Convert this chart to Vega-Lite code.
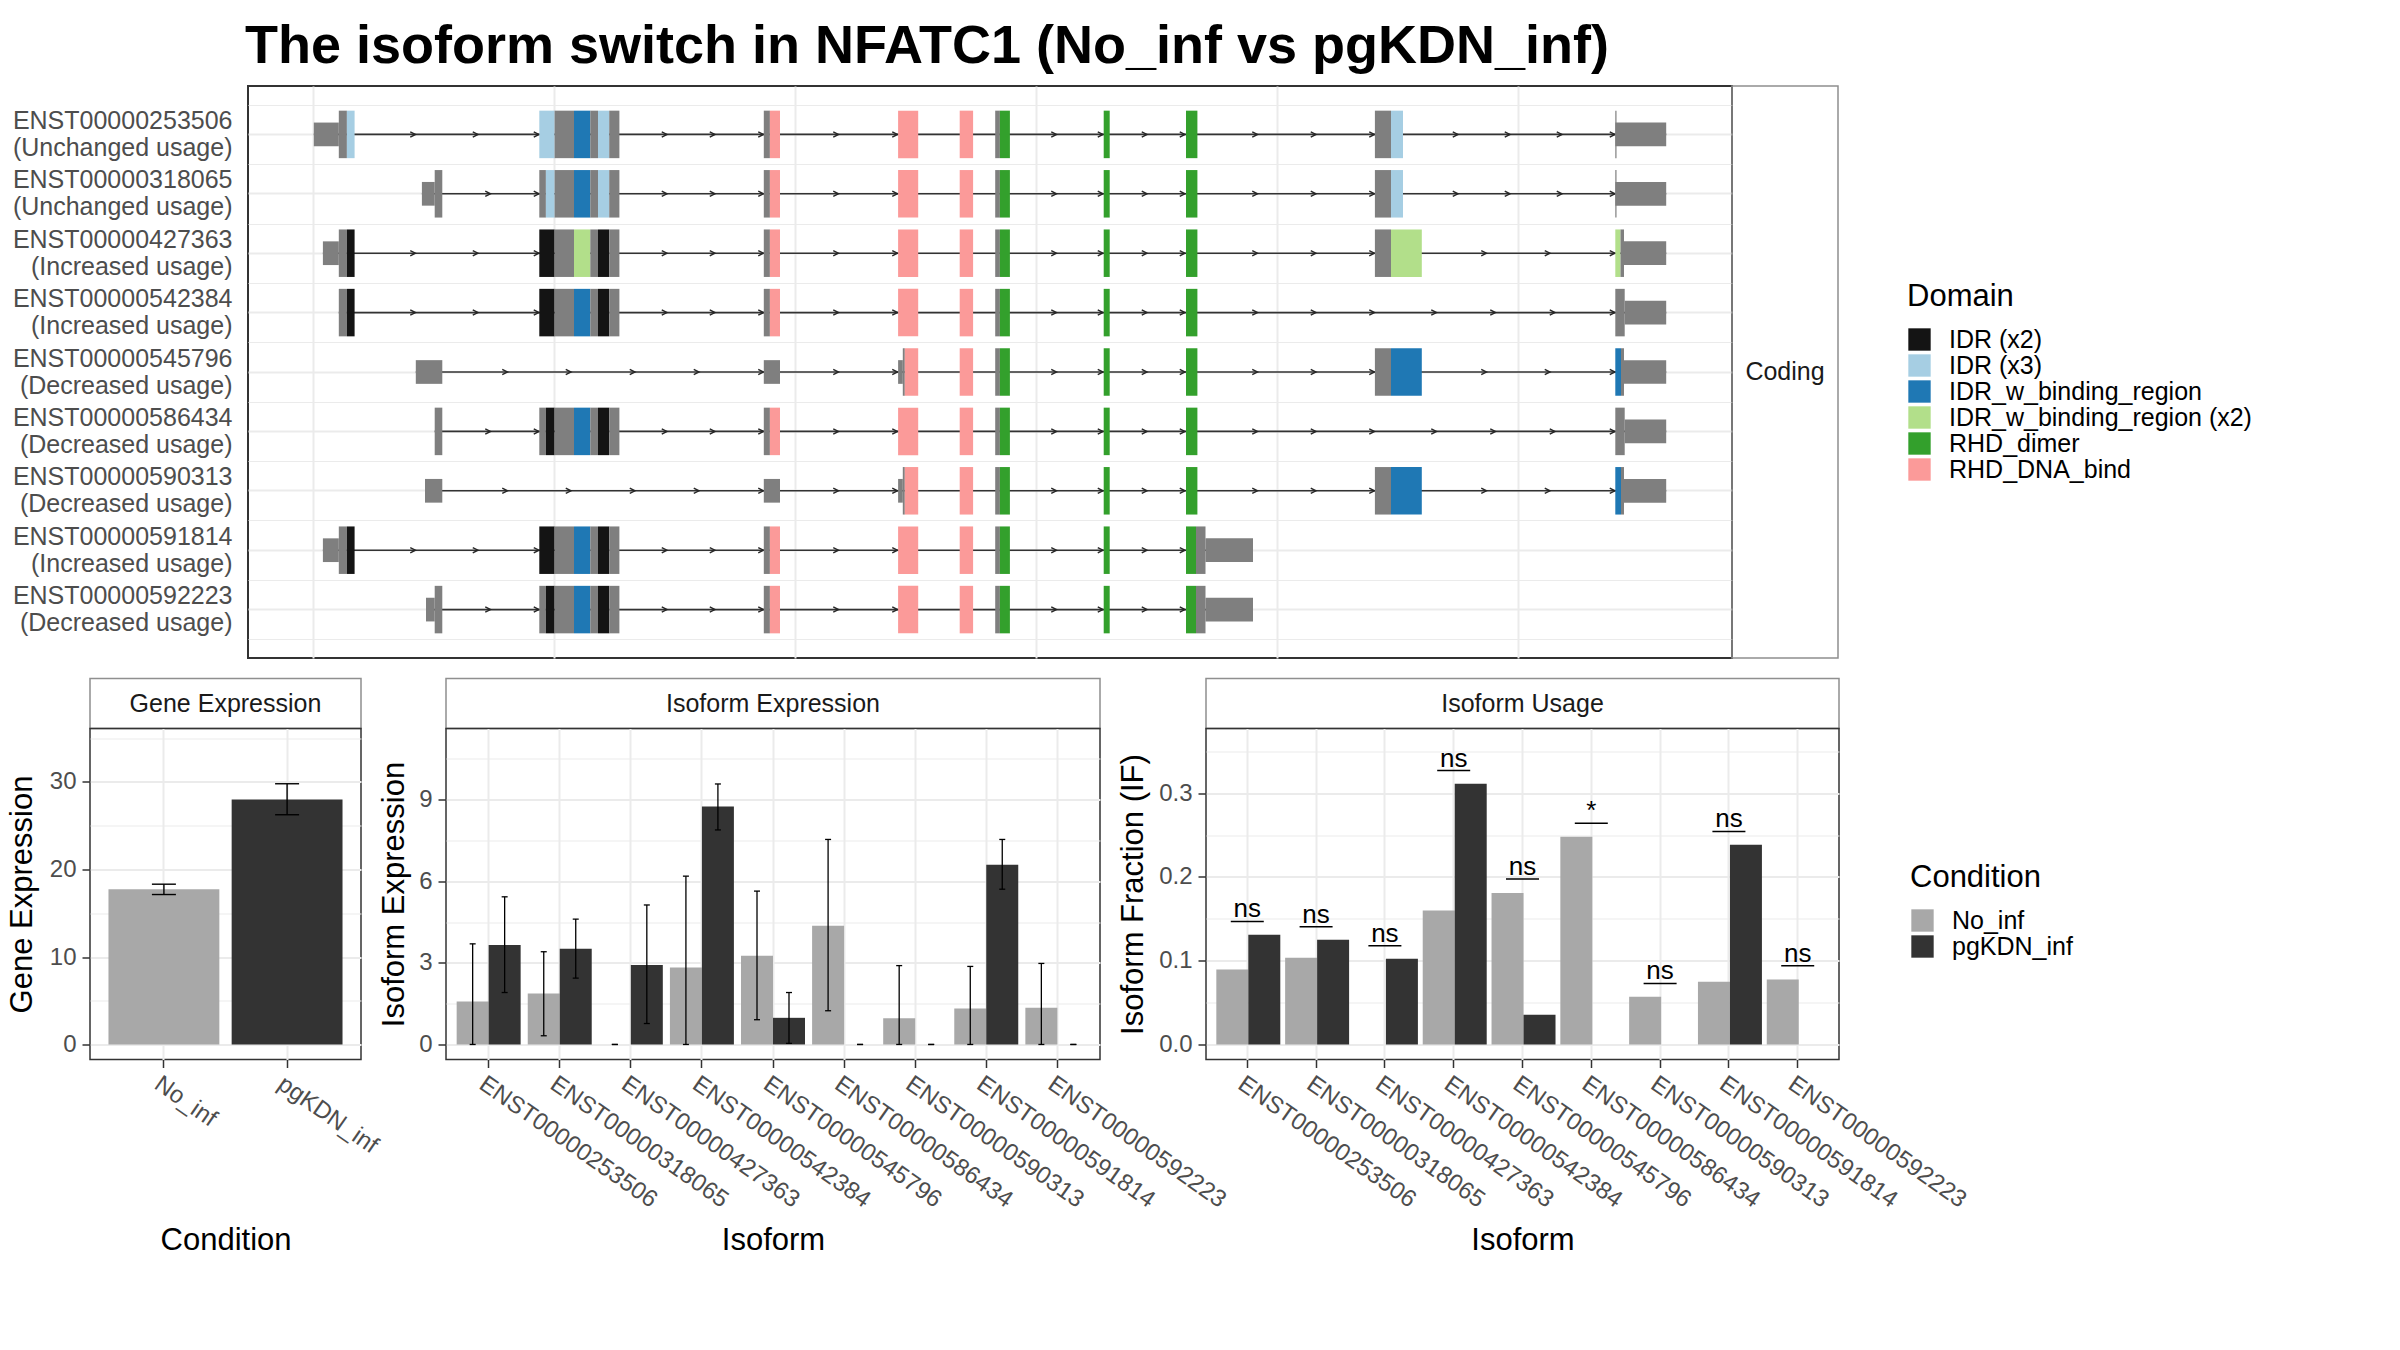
{
  "$schema": "https://vega.github.io/schema/vega-lite/v6.json",
  "padding": {"left": 5, "top": 20, "right": 20, "bottom": 20},
  "background": "white",
  "title": {"text": "The isoform switch in NFATC1 (No_inf vs pgKDN_inf)", "anchor": "start", "frame": "group", "fontSize": 54, "fontWeight": "bold", "font": "Liberation Sans", "color": "#000000", "baseline": "alphabetic", "offset": -32, "dx": 155},
  "spacing": 18.5,
  "datasets": {
    "tx": [
      {"t": "ENST00000253506\n(Unchanged usage)", "s": 0.8, "e": 1353.2},
      {"t": "ENST00000318065\n(Unchanged usage)", "s": 108.9, "e": 1353.2},
      {"t": "ENST00000427363\n(Increased usage)", "s": 9.9, "e": 1353.2},
      {"t": "ENST00000542384\n(Increased usage)", "s": 25.8, "e": 1353.2},
      {"t": "ENST00000545796\n(Decreased usage)", "s": 102.8, "e": 1353.2},
      {"t": "ENST00000586434\n(Decreased usage)", "s": 121.7, "e": 1353.2},
      {"t": "ENST00000590313\n(Decreased usage)", "s": 112, "e": 1353.2},
      {"t": "ENST00000591814\n(Increased usage)", "s": 9.9, "e": 940},
      {"t": "ENST00000592223\n(Decreased usage)", "s": 113, "e": 940}
    ],
    "chev": [
      {"t": "ENST00000253506\n(Unchanged usage)", "p": [102.5, 165, 226, 354, 402, 450.5, 525.5, 584.5, 743.5, 790, 834, 872, 944.5, 1003, 1061.5, 1145, 1197, 1249, 1302]},
      {"t": "ENST00000318065\n(Unchanged usage)", "p": [177.5, 226, 354, 402, 450.5, 525.5, 584.5, 743.5, 790, 834, 872, 944.5, 1003, 1061.5, 1145, 1197, 1249, 1302]},
      {"t": "ENST00000427363\n(Increased usage)", "p": [102.5, 165, 226, 354, 402, 450.5, 525.5, 584.5, 743.5, 790, 834, 872, 944.5, 1003, 1061.5, 1173.5, 1237, 1302]},
      {"t": "ENST00000542384\n(Increased usage)", "p": [102.5, 165, 226, 354, 402, 450.5, 525.5, 584.5, 743.5, 790, 834, 872, 944.5, 1003, 1061.5, 1123.5, 1182.5, 1242, 1302]},
      {"t": "ENST00000545796\n(Decreased usage)", "p": [194.5, 258, 322, 386, 450.5, 525.5, 584.5, 743.5, 790, 834, 872, 944.5, 1003, 1061.5, 1173.5, 1237, 1302]},
      {"t": "ENST00000586434\n(Decreased usage)", "p": [177.5, 226, 354, 402, 450.5, 525.5, 584.5, 743.5, 790, 834, 872, 944.5, 1003, 1061.5, 1123.5, 1182.5, 1242, 1302]},
      {"t": "ENST00000590313\n(Decreased usage)", "p": [194.5, 258, 322, 386, 450.5, 525.5, 584.5, 743.5, 790, 834, 872, 944.5, 1003, 1061.5, 1173.5, 1237, 1302]},
      {"t": "ENST00000591814\n(Increased usage)", "p": [102.5, 165, 226, 354, 402, 450.5, 525.5, 584.5, 743.5, 790, 834, 872]},
      {"t": "ENST00000592223\n(Decreased usage)", "p": [177.5, 226, 354, 402, 450.5, 525.5, 584.5, 743.5, 790, 834, 872]}
    ],
    "exons": [
      {"t": "ENST00000253506\n(Unchanged usage)", "k": "UTR", "s": 0.8, "e": 25.8},
      {"t": "ENST00000253506\n(Unchanged usage)", "k": "CDS", "s": 25.8, "e": 33.9},
      {"t": "ENST00000253506\n(Unchanged usage)", "k": "IDR (x3)", "s": 33.9, "e": 41.6},
      {"t": "ENST00000253506\n(Unchanged usage)", "k": "IDR (x3)", "s": 226.3, "e": 241.6},
      {"t": "ENST00000253506\n(Unchanged usage)", "k": "CDS", "s": 241.6, "e": 261},
      {"t": "ENST00000253506\n(Unchanged usage)", "k": "IDR_w_binding_region", "s": 261, "e": 277.3},
      {"t": "ENST00000253506\n(Unchanged usage)", "k": "CDS", "s": 277.3, "e": 285},
      {"t": "ENST00000253506\n(Unchanged usage)", "k": "IDR (x3)", "s": 285, "e": 296.2},
      {"t": "ENST00000253506\n(Unchanged usage)", "k": "CDS", "s": 296.2, "e": 306.4},
      {"t": "ENST00000253506\n(Unchanged usage)", "k": "CDS", "s": 450.8, "e": 456.9},
      {"t": "ENST00000253506\n(Unchanged usage)", "k": "RHD_DNA_bind", "s": 456.9, "e": 467},
      {"t": "ENST00000253506\n(Unchanged usage)", "k": "RHD_DNA_bind", "s": 585.1, "e": 605.2},
      {"t": "ENST00000253506\n(Unchanged usage)", "k": "RHD_DNA_bind", "s": 646.7, "e": 660.1},
      {"t": "ENST00000253506\n(Unchanged usage)", "k": "CDS", "s": 682.2, "e": 686.9},
      {"t": "ENST00000253506\n(Unchanged usage)", "k": "RHD_dimer", "s": 686.9, "e": 696.9},
      {"t": "ENST00000253506\n(Unchanged usage)", "k": "RHD_dimer", "s": 790.7, "e": 796.7},
      {"t": "ENST00000253506\n(Unchanged usage)", "k": "RHD_dimer", "s": 873, "e": 884.4},
      {"t": "ENST00000253506\n(Unchanged usage)", "k": "CDS", "s": 1061.9, "e": 1078},
      {"t": "ENST00000253506\n(Unchanged usage)", "k": "IDR (x3)", "s": 1078, "e": 1090},
      {"t": "ENST00000253506\n(Unchanged usage)", "k": "UTR", "s": 1302.3, "e": 1353.2},
      {"t": "ENST00000253506\n(Unchanged usage)", "k": "CDS", "s": 1302.3, "e": 1303.5},

      {"t": "ENST00000318065\n(Unchanged usage)", "k": "UTR", "s": 108.9, "e": 121.7},
      {"t": "ENST00000318065\n(Unchanged usage)", "k": "CDS", "s": 121.7, "e": 129.3},
      {"t": "ENST00000318065\n(Unchanged usage)", "k": "CDS", "s": 226.3, "e": 232.9},
      {"t": "ENST00000318065\n(Unchanged usage)", "k": "IDR (x3)", "s": 232.9, "e": 241.6},
      {"t": "ENST00000318065\n(Unchanged usage)", "k": "CDS", "s": 241.6, "e": 261},
      {"t": "ENST00000318065\n(Unchanged usage)", "k": "IDR_w_binding_region", "s": 261, "e": 277.3},
      {"t": "ENST00000318065\n(Unchanged usage)", "k": "CDS", "s": 277.3, "e": 285},
      {"t": "ENST00000318065\n(Unchanged usage)", "k": "IDR (x3)", "s": 285, "e": 296.2},
      {"t": "ENST00000318065\n(Unchanged usage)", "k": "CDS", "s": 296.2, "e": 306.4},
      {"t": "ENST00000318065\n(Unchanged usage)", "k": "CDS", "s": 450.8, "e": 456.9},
      {"t": "ENST00000318065\n(Unchanged usage)", "k": "RHD_DNA_bind", "s": 456.9, "e": 467},
      {"t": "ENST00000318065\n(Unchanged usage)", "k": "RHD_DNA_bind", "s": 585.1, "e": 605.2},
      {"t": "ENST00000318065\n(Unchanged usage)", "k": "RHD_DNA_bind", "s": 646.7, "e": 660.1},
      {"t": "ENST00000318065\n(Unchanged usage)", "k": "CDS", "s": 682.2, "e": 686.9},
      {"t": "ENST00000318065\n(Unchanged usage)", "k": "RHD_dimer", "s": 686.9, "e": 696.9},
      {"t": "ENST00000318065\n(Unchanged usage)", "k": "RHD_dimer", "s": 790.7, "e": 796.7},
      {"t": "ENST00000318065\n(Unchanged usage)", "k": "RHD_dimer", "s": 873, "e": 884.4},
      {"t": "ENST00000318065\n(Unchanged usage)", "k": "CDS", "s": 1061.9, "e": 1078},
      {"t": "ENST00000318065\n(Unchanged usage)", "k": "IDR (x3)", "s": 1078, "e": 1090},
      {"t": "ENST00000318065\n(Unchanged usage)", "k": "UTR", "s": 1302.3, "e": 1353.2},
      {"t": "ENST00000318065\n(Unchanged usage)", "k": "CDS", "s": 1302.3, "e": 1303.5},

      {"t": "ENST00000427363\n(Increased usage)", "k": "UTR", "s": 9.9, "e": 25.8},
      {"t": "ENST00000427363\n(Increased usage)", "k": "CDS", "s": 25.8, "e": 33.9},
      {"t": "ENST00000427363\n(Increased usage)", "k": "IDR (x2)", "s": 33.9, "e": 41.6},
      {"t": "ENST00000427363\n(Increased usage)", "k": "IDR (x2)", "s": 226.3, "e": 241.6},
      {"t": "ENST00000427363\n(Increased usage)", "k": "CDS", "s": 241.6, "e": 261},
      {"t": "ENST00000427363\n(Increased usage)", "k": "IDR_w_binding_region (x2)", "s": 261, "e": 277.3},
      {"t": "ENST00000427363\n(Increased usage)", "k": "CDS", "s": 277.3, "e": 285},
      {"t": "ENST00000427363\n(Increased usage)", "k": "IDR (x2)", "s": 285, "e": 296.2},
      {"t": "ENST00000427363\n(Increased usage)", "k": "CDS", "s": 296.2, "e": 306.4},
      {"t": "ENST00000427363\n(Increased usage)", "k": "CDS", "s": 450.8, "e": 456.9},
      {"t": "ENST00000427363\n(Increased usage)", "k": "RHD_DNA_bind", "s": 456.9, "e": 467},
      {"t": "ENST00000427363\n(Increased usage)", "k": "RHD_DNA_bind", "s": 585.1, "e": 605.2},
      {"t": "ENST00000427363\n(Increased usage)", "k": "RHD_DNA_bind", "s": 646.7, "e": 660.1},
      {"t": "ENST00000427363\n(Increased usage)", "k": "CDS", "s": 682.2, "e": 686.9},
      {"t": "ENST00000427363\n(Increased usage)", "k": "RHD_dimer", "s": 686.9, "e": 696.9},
      {"t": "ENST00000427363\n(Increased usage)", "k": "RHD_dimer", "s": 790.7, "e": 796.7},
      {"t": "ENST00000427363\n(Increased usage)", "k": "RHD_dimer", "s": 873, "e": 884.4},
      {"t": "ENST00000427363\n(Increased usage)", "k": "CDS", "s": 1061.9, "e": 1078},
      {"t": "ENST00000427363\n(Increased usage)", "k": "IDR_w_binding_region (x2)", "s": 1078, "e": 1108.8},
      {"t": "ENST00000427363\n(Increased usage)", "k": "IDR_w_binding_region (x2)", "s": 1302.3, "e": 1307.5},
      {"t": "ENST00000427363\n(Increased usage)", "k": "CDS", "s": 1307.5, "e": 1311},
      {"t": "ENST00000427363\n(Increased usage)", "k": "UTR", "s": 1311, "e": 1353.2},

      {"t": "ENST00000542384\n(Increased usage)", "k": "CDS", "s": 25.8, "e": 33.9},
      {"t": "ENST00000542384\n(Increased usage)", "k": "IDR (x2)", "s": 33.9, "e": 41.6},
      {"t": "ENST00000542384\n(Increased usage)", "k": "IDR (x2)", "s": 226.3, "e": 241.6},
      {"t": "ENST00000542384\n(Increased usage)", "k": "CDS", "s": 241.6, "e": 261},
      {"t": "ENST00000542384\n(Increased usage)", "k": "IDR_w_binding_region", "s": 261, "e": 277.3},
      {"t": "ENST00000542384\n(Increased usage)", "k": "CDS", "s": 277.3, "e": 285},
      {"t": "ENST00000542384\n(Increased usage)", "k": "IDR (x2)", "s": 285, "e": 296.2},
      {"t": "ENST00000542384\n(Increased usage)", "k": "CDS", "s": 296.2, "e": 306.4},
      {"t": "ENST00000542384\n(Increased usage)", "k": "CDS", "s": 450.8, "e": 456.9},
      {"t": "ENST00000542384\n(Increased usage)", "k": "RHD_DNA_bind", "s": 456.9, "e": 467},
      {"t": "ENST00000542384\n(Increased usage)", "k": "RHD_DNA_bind", "s": 585.1, "e": 605.2},
      {"t": "ENST00000542384\n(Increased usage)", "k": "RHD_DNA_bind", "s": 646.7, "e": 660.1},
      {"t": "ENST00000542384\n(Increased usage)", "k": "CDS", "s": 682.2, "e": 686.9},
      {"t": "ENST00000542384\n(Increased usage)", "k": "RHD_dimer", "s": 686.9, "e": 696.9},
      {"t": "ENST00000542384\n(Increased usage)", "k": "RHD_dimer", "s": 790.7, "e": 796.7},
      {"t": "ENST00000542384\n(Increased usage)", "k": "RHD_dimer", "s": 873, "e": 884.4},
      {"t": "ENST00000542384\n(Increased usage)", "k": "CDS", "s": 1302.3, "e": 1311.7},
      {"t": "ENST00000542384\n(Increased usage)", "k": "UTR", "s": 1311.7, "e": 1353.2},

      {"t": "ENST00000545796\n(Decreased usage)", "k": "UTR", "s": 102.8, "e": 129.3},
      {"t": "ENST00000545796\n(Decreased usage)", "k": "UTR", "s": 450.8, "e": 467},
      {"t": "ENST00000545796\n(Decreased usage)", "k": "UTR", "s": 585.1, "e": 589.8},
      {"t": "ENST00000545796\n(Decreased usage)", "k": "CDS", "s": 589.8, "e": 591.8},
      {"t": "ENST00000545796\n(Decreased usage)", "k": "RHD_DNA_bind", "s": 591.8, "e": 605.2},
      {"t": "ENST00000545796\n(Decreased usage)", "k": "RHD_DNA_bind", "s": 646.7, "e": 660.1},
      {"t": "ENST00000545796\n(Decreased usage)", "k": "CDS", "s": 682.2, "e": 686.9},
      {"t": "ENST00000545796\n(Decreased usage)", "k": "RHD_dimer", "s": 686.9, "e": 696.9},
      {"t": "ENST00000545796\n(Decreased usage)", "k": "RHD_dimer", "s": 790.7, "e": 796.7},
      {"t": "ENST00000545796\n(Decreased usage)", "k": "RHD_dimer", "s": 873, "e": 884.4},
      {"t": "ENST00000545796\n(Decreased usage)", "k": "CDS", "s": 1061.9, "e": 1078},
      {"t": "ENST00000545796\n(Decreased usage)", "k": "IDR_w_binding_region", "s": 1078, "e": 1108.8},
      {"t": "ENST00000545796\n(Decreased usage)", "k": "IDR_w_binding_region", "s": 1302.3, "e": 1308},
      {"t": "ENST00000545796\n(Decreased usage)", "k": "CDS", "s": 1308, "e": 1311},
      {"t": "ENST00000545796\n(Decreased usage)", "k": "UTR", "s": 1311, "e": 1353.2},

      {"t": "ENST00000586434\n(Decreased usage)", "k": "CDS", "s": 121.7, "e": 129.3},
      {"t": "ENST00000586434\n(Decreased usage)", "k": "CDS", "s": 226.3, "e": 232.9},
      {"t": "ENST00000586434\n(Decreased usage)", "k": "IDR (x2)", "s": 232.9, "e": 241.6},
      {"t": "ENST00000586434\n(Decreased usage)", "k": "CDS", "s": 241.6, "e": 261},
      {"t": "ENST00000586434\n(Decreased usage)", "k": "IDR_w_binding_region", "s": 261, "e": 277.3},
      {"t": "ENST00000586434\n(Decreased usage)", "k": "CDS", "s": 277.3, "e": 285},
      {"t": "ENST00000586434\n(Decreased usage)", "k": "IDR (x2)", "s": 285, "e": 296.2},
      {"t": "ENST00000586434\n(Decreased usage)", "k": "CDS", "s": 296.2, "e": 306.4},
      {"t": "ENST00000586434\n(Decreased usage)", "k": "CDS", "s": 450.8, "e": 456.9},
      {"t": "ENST00000586434\n(Decreased usage)", "k": "RHD_DNA_bind", "s": 456.9, "e": 467},
      {"t": "ENST00000586434\n(Decreased usage)", "k": "RHD_DNA_bind", "s": 585.1, "e": 605.2},
      {"t": "ENST00000586434\n(Decreased usage)", "k": "RHD_DNA_bind", "s": 646.7, "e": 660.1},
      {"t": "ENST00000586434\n(Decreased usage)", "k": "CDS", "s": 682.2, "e": 686.9},
      {"t": "ENST00000586434\n(Decreased usage)", "k": "RHD_dimer", "s": 686.9, "e": 696.9},
      {"t": "ENST00000586434\n(Decreased usage)", "k": "RHD_dimer", "s": 790.7, "e": 796.7},
      {"t": "ENST00000586434\n(Decreased usage)", "k": "RHD_dimer", "s": 873, "e": 884.4},
      {"t": "ENST00000586434\n(Decreased usage)", "k": "CDS", "s": 1302.3, "e": 1311.7},
      {"t": "ENST00000586434\n(Decreased usage)", "k": "UTR", "s": 1311.7, "e": 1353.2},

      {"t": "ENST00000590313\n(Decreased usage)", "k": "UTR", "s": 112, "e": 129.3},
      {"t": "ENST00000590313\n(Decreased usage)", "k": "UTR", "s": 450.8, "e": 467},
      {"t": "ENST00000590313\n(Decreased usage)", "k": "UTR", "s": 585.1, "e": 589.8},
      {"t": "ENST00000590313\n(Decreased usage)", "k": "CDS", "s": 589.8, "e": 591.8},
      {"t": "ENST00000590313\n(Decreased usage)", "k": "RHD_DNA_bind", "s": 591.8, "e": 605.2},
      {"t": "ENST00000590313\n(Decreased usage)", "k": "RHD_DNA_bind", "s": 646.7, "e": 660.1},
      {"t": "ENST00000590313\n(Decreased usage)", "k": "CDS", "s": 682.2, "e": 686.9},
      {"t": "ENST00000590313\n(Decreased usage)", "k": "RHD_dimer", "s": 686.9, "e": 696.9},
      {"t": "ENST00000590313\n(Decreased usage)", "k": "RHD_dimer", "s": 790.7, "e": 796.7},
      {"t": "ENST00000590313\n(Decreased usage)", "k": "RHD_dimer", "s": 873, "e": 884.4},
      {"t": "ENST00000590313\n(Decreased usage)", "k": "CDS", "s": 1061.9, "e": 1078},
      {"t": "ENST00000590313\n(Decreased usage)", "k": "IDR_w_binding_region", "s": 1078, "e": 1108.8},
      {"t": "ENST00000590313\n(Decreased usage)", "k": "IDR_w_binding_region", "s": 1302.3, "e": 1308},
      {"t": "ENST00000590313\n(Decreased usage)", "k": "CDS", "s": 1308, "e": 1311},
      {"t": "ENST00000590313\n(Decreased usage)", "k": "UTR", "s": 1311, "e": 1353.2},

      {"t": "ENST00000591814\n(Increased usage)", "k": "UTR", "s": 9.9, "e": 25.8},
      {"t": "ENST00000591814\n(Increased usage)", "k": "CDS", "s": 25.8, "e": 33.9},
      {"t": "ENST00000591814\n(Increased usage)", "k": "IDR (x2)", "s": 33.9, "e": 41.6},
      {"t": "ENST00000591814\n(Increased usage)", "k": "IDR (x2)", "s": 226.3, "e": 241.6},
      {"t": "ENST00000591814\n(Increased usage)", "k": "CDS", "s": 241.6, "e": 261},
      {"t": "ENST00000591814\n(Increased usage)", "k": "IDR_w_binding_region", "s": 261, "e": 277.3},
      {"t": "ENST00000591814\n(Increased usage)", "k": "CDS", "s": 277.3, "e": 285},
      {"t": "ENST00000591814\n(Increased usage)", "k": "IDR (x2)", "s": 285, "e": 296.2},
      {"t": "ENST00000591814\n(Increased usage)", "k": "CDS", "s": 296.2, "e": 306.4},
      {"t": "ENST00000591814\n(Increased usage)", "k": "CDS", "s": 450.8, "e": 456.9},
      {"t": "ENST00000591814\n(Increased usage)", "k": "RHD_DNA_bind", "s": 456.9, "e": 467},
      {"t": "ENST00000591814\n(Increased usage)", "k": "RHD_DNA_bind", "s": 585.1, "e": 605.2},
      {"t": "ENST00000591814\n(Increased usage)", "k": "RHD_DNA_bind", "s": 646.7, "e": 660.1},
      {"t": "ENST00000591814\n(Increased usage)", "k": "CDS", "s": 682.2, "e": 686.9},
      {"t": "ENST00000591814\n(Increased usage)", "k": "RHD_dimer", "s": 686.9, "e": 696.9},
      {"t": "ENST00000591814\n(Increased usage)", "k": "RHD_dimer", "s": 790.7, "e": 796.7},
      {"t": "ENST00000591814\n(Increased usage)", "k": "RHD_dimer", "s": 873, "e": 883},
      {"t": "ENST00000591814\n(Increased usage)", "k": "CDS", "s": 883, "e": 892.5},
      {"t": "ENST00000591814\n(Increased usage)", "k": "UTR", "s": 892.5, "e": 940},

      {"t": "ENST00000592223\n(Decreased usage)", "k": "UTR", "s": 113, "e": 121.7},
      {"t": "ENST00000592223\n(Decreased usage)", "k": "CDS", "s": 121.7, "e": 129.3},
      {"t": "ENST00000592223\n(Decreased usage)", "k": "CDS", "s": 226.3, "e": 232.9},
      {"t": "ENST00000592223\n(Decreased usage)", "k": "IDR (x2)", "s": 232.9, "e": 241.6},
      {"t": "ENST00000592223\n(Decreased usage)", "k": "CDS", "s": 241.6, "e": 261},
      {"t": "ENST00000592223\n(Decreased usage)", "k": "IDR_w_binding_region", "s": 261, "e": 277.3},
      {"t": "ENST00000592223\n(Decreased usage)", "k": "CDS", "s": 277.3, "e": 285},
      {"t": "ENST00000592223\n(Decreased usage)", "k": "IDR (x2)", "s": 285, "e": 296.2},
      {"t": "ENST00000592223\n(Decreased usage)", "k": "CDS", "s": 296.2, "e": 306.4},
      {"t": "ENST00000592223\n(Decreased usage)", "k": "CDS", "s": 450.8, "e": 456.9},
      {"t": "ENST00000592223\n(Decreased usage)", "k": "RHD_DNA_bind", "s": 456.9, "e": 467},
      {"t": "ENST00000592223\n(Decreased usage)", "k": "RHD_DNA_bind", "s": 585.1, "e": 605.2},
      {"t": "ENST00000592223\n(Decreased usage)", "k": "RHD_DNA_bind", "s": 646.7, "e": 660.1},
      {"t": "ENST00000592223\n(Decreased usage)", "k": "CDS", "s": 682.2, "e": 686.9},
      {"t": "ENST00000592223\n(Decreased usage)", "k": "RHD_dimer", "s": 686.9, "e": 696.9},
      {"t": "ENST00000592223\n(Decreased usage)", "k": "RHD_dimer", "s": 790.7, "e": 796.7},
      {"t": "ENST00000592223\n(Decreased usage)", "k": "RHD_dimer", "s": 873, "e": 883},
      {"t": "ENST00000592223\n(Decreased usage)", "k": "CDS", "s": 883, "e": 892.5},
      {"t": "ENST00000592223\n(Decreased usage)", "k": "UTR", "s": 892.5, "e": 940}
    ],
    "gene": [
      {"Condition": "No_inf", "v": 17.75, "lo": 17.14, "hi": 18.32},
      {"Condition": "pgKDN_inf", "v": 28.0, "lo": 26.25, "hi": 29.79}
    ],
    "iso": [
      {"isoform": "ENST00000253506", "Condition": "No_inf", "v": 1.58, "lo": 0, "hi": 3.70},
      {"isoform": "ENST00000253506", "Condition": "pgKDN_inf", "v": 3.66, "lo": 1.91, "hi": 5.43},
      {"isoform": "ENST00000318065", "Condition": "No_inf", "v": 1.87, "lo": 0.32, "hi": 3.41},
      {"isoform": "ENST00000318065", "Condition": "pgKDN_inf", "v": 3.52, "lo": 2.44, "hi": 4.61},
      {"isoform": "ENST00000427363", "Condition": "No_inf", "v": 0, "lo": 0, "hi": 0},
      {"isoform": "ENST00000427363", "Condition": "pgKDN_inf", "v": 2.92, "lo": 0.77, "hi": 5.13},
      {"isoform": "ENST00000542384", "Condition": "No_inf", "v": 2.83, "lo": 0, "hi": 6.19},
      {"isoform": "ENST00000542384", "Condition": "pgKDN_inf", "v": 8.75, "lo": 7.89, "hi": 9.58},
      {"isoform": "ENST00000545796", "Condition": "No_inf", "v": 3.26, "lo": 0.91, "hi": 5.64},
      {"isoform": "ENST00000545796", "Condition": "pgKDN_inf", "v": 0.98, "lo": 0.04, "hi": 1.91},
      {"isoform": "ENST00000586434", "Condition": "No_inf", "v": 4.37, "lo": 1.24, "hi": 7.54},
      {"isoform": "ENST00000586434", "Condition": "pgKDN_inf", "v": 0, "lo": 0, "hi": 0},
      {"isoform": "ENST00000590313", "Condition": "No_inf", "v": 0.96, "lo": 0, "hi": 2.90},
      {"isoform": "ENST00000590313", "Condition": "pgKDN_inf", "v": 0, "lo": 0, "hi": 0},
      {"isoform": "ENST00000591814", "Condition": "No_inf", "v": 1.32, "lo": 0, "hi": 2.87},
      {"isoform": "ENST00000591814", "Condition": "pgKDN_inf", "v": 6.61, "lo": 5.71, "hi": 7.54},
      {"isoform": "ENST00000592223", "Condition": "No_inf", "v": 1.35, "lo": 0, "hi": 2.98},
      {"isoform": "ENST00000592223", "Condition": "pgKDN_inf", "v": 0, "lo": 0, "hi": 0}
    ],
    "usage": [
      {"isoform": "ENST00000253506", "Condition": "No_inf", "IF": 0.0895},
      {"isoform": "ENST00000253506", "Condition": "pgKDN_inf", "IF": 0.131},
      {"isoform": "ENST00000318065", "Condition": "No_inf", "IF": 0.1037},
      {"isoform": "ENST00000318065", "Condition": "pgKDN_inf", "IF": 0.125},
      {"isoform": "ENST00000427363", "Condition": "No_inf", "IF": 0},
      {"isoform": "ENST00000427363", "Condition": "pgKDN_inf", "IF": 0.1023},
      {"isoform": "ENST00000542384", "Condition": "No_inf", "IF": 0.160},
      {"isoform": "ENST00000542384", "Condition": "pgKDN_inf", "IF": 0.3114},
      {"isoform": "ENST00000545796", "Condition": "No_inf", "IF": 0.181},
      {"isoform": "ENST00000545796", "Condition": "pgKDN_inf", "IF": 0.0356},
      {"isoform": "ENST00000586434", "Condition": "No_inf", "IF": 0.248},
      {"isoform": "ENST00000586434", "Condition": "pgKDN_inf", "IF": 0},
      {"isoform": "ENST00000590313", "Condition": "No_inf", "IF": 0.057},
      {"isoform": "ENST00000590313", "Condition": "pgKDN_inf", "IF": 0},
      {"isoform": "ENST00000591814", "Condition": "No_inf", "IF": 0.0749},
      {"isoform": "ENST00000591814", "Condition": "pgKDN_inf", "IF": 0.2384},
      {"isoform": "ENST00000592223", "Condition": "No_inf", "IF": 0.0776},
      {"isoform": "ENST00000592223", "Condition": "pgKDN_inf", "IF": 0}
    ],
    "sig": [
      {"isoform": "ENST00000253506", "y": 0.147, "label": "ns"},
      {"isoform": "ENST00000318065", "y": 0.1406, "label": "ns"},
      {"isoform": "ENST00000427363", "y": 0.1178, "label": "ns"},
      {"isoform": "ENST00000542384", "y": 0.327, "label": "ns"},
      {"isoform": "ENST00000545796", "y": 0.1977, "label": "ns"},
      {"isoform": "ENST00000586434", "y": 0.264, "label": "*"},
      {"isoform": "ENST00000590313", "y": 0.073, "label": "ns"},
      {"isoform": "ENST00000591814", "y": 0.2543, "label": "ns"},
      {"isoform": "ENST00000592223", "y": 0.094, "label": "ns"}
    ]
  },
  "vconcat": [
    {
      "bounds": "flush",
      "spacing": 0,
      "hconcat": [
        {"width": 158, "height": 572, "data": {"values": []}, "mark": "point", "view": {"stroke": null}},
        {
          "width": 1484,
          "height": 572,
          "view": {"stroke": "#333333", "strokeWidth": 2},
          "layer": [
            {
              "data": {"name": "tx"},
              "mark": {"type": "rule", "color": "#333333", "strokeWidth": 1.6},
              "encoding": {
                "y": {"field": "t", "type": "nominal", "scale": {"type": "band", "paddingInner": 0, "paddingOuter": 0.315},
                      "axis": {"orient": "left", "tickBand": "extent", "grid": true, "gridWidth": 1.2, "gridColor": "#EBEBEB", "labels": false, "ticks": false, "domain": false, "title": null}},
                "x": {"field": "s", "type": "quantitative", "scale": {"domain": [-65, 1419], "nice": false, "zero": false},
                      "axis": {"values": [0, 241, 482, 723, 964, 1205], "grid": true, "gridWidth": 2, "gridColor": "#EBEBEB", "labels": false, "ticks": false, "domain": false, "title": null}},
                "x2": {"field": "e"}
              }
            },
            {
              "data": {"name": "chev"},
              "transform": [{"flatten": ["p"]}],
              "mark": {"type": "point", "shape": "M-1,-0.5L0,0L-1,0.5", "filled": false, "size": 110, "strokeWidth": 1.4, "color": "#262626", "opacity": 1},
              "encoding": {
                "y": {"field": "t", "type": "nominal", "axis": null},
                "x": {"field": "p", "type": "quantitative",
                      "axis": {"values": [0, 241, 482, 723, 964, 1205], "grid": true, "gridWidth": 2, "gridColor": "#EBEBEB", "labels": false, "ticks": false, "domain": false, "title": null}}
              }
            },
            {
              "data": {"name": "exons"},
              "transform": [{"filter": "datum.k == 'UTR'"}],
              "mark": {"type": "bar", "height": 23.7, "color": "#7F7F7F"},
              "encoding": {
                "y": {"field": "t", "type": "nominal",
                      "axis": {"orient": "left", "grid": true, "gridWidth": 2, "gridColor": "#EBEBEB", "ticks": false, "tickSize": 0, "domain": false, "labelPadding": 16, "labelExpr": "split(datum.value, '\\n')", "labelLineHeight": 27, "labelOffset": -13.5, "labelFontSize": 25, "labelLimit": 0, "labelAlign": "right", "labelBaseline": "middle", "title": null}},
                "x": {"field": "s", "type": "quantitative",
                      "axis": {"values": [0, 241, 482, 723, 964, 1205], "grid": true, "gridWidth": 2, "gridColor": "#EBEBEB", "labels": false, "ticks": false, "domain": false, "title": null}},
                "x2": {"field": "e"}
              }
            },
            {
              "data": {"name": "exons"},
              "transform": [{"filter": "datum.k != 'UTR'"}],
              "mark": {"type": "bar", "height": 47.5},
              "encoding": {
                "y": {"field": "t", "type": "nominal", "axis": null},
                "x": {"field": "s", "type": "quantitative",
                      "axis": {"values": [0, 241, 482, 723, 964, 1205], "grid": true, "gridWidth": 2, "gridColor": "#EBEBEB", "labels": false, "ticks": false, "domain": false, "title": null}},
                "x2": {"field": "e"},
                "color": {"field": "k", "type": "nominal",
                          "scale": {"domain": ["IDR (x2)", "IDR (x3)", "IDR_w_binding_region", "IDR_w_binding_region (x2)", "RHD_dimer", "RHD_DNA_bind", "CDS"],
                                    "range": ["#141414", "#A6CEE3", "#1F78B4", "#B2DF8A", "#33A02C", "#FB9A99", "#7F7F7F"]},
                          "legend": {"title": "Domain", "orient": "none", "legendX": 1659, "legendY": 196,
                                     "values": ["IDR (x2)", "IDR (x3)", "IDR_w_binding_region", "IDR_w_binding_region (x2)", "RHD_dimer", "RHD_DNA_bind"]}}
              }
            }
          ],
          "resolve": {"axis": {"y": "independent"}}
        },
        {
          "width": 106,
          "height": 572,
          "data": {"values": [{"strip": "Coding"}]},
          "mark": {"type": "text", "fontSize": 25, "color": "#1A1A1A", "align": "center", "baseline": "middle"},
          "encoding": {"text": {"field": "strip", "type": "nominal"}},
          "view": {"stroke": "#8F8F8F", "strokeWidth": 1.5}
        }
      ],
      "resolve": {"scale": {"x": "independent", "y": "independent", "color": "independent"}, "legend": {"color": "independent"}}
    },
    {
      "bounds": "flush",
      "spacing": 0,
      "columns": 5,
      "concat": [
        {
          "width": 271, "height": 50,
          "data": {"values": [{"panel": "Gene Expression"}]},
          "mark": {"type": "text", "fontSize": 25, "color": "#1A1A1A", "align": "center", "baseline": "middle"},
          "encoding": {"text": {"field": "panel", "type": "nominal"}},
          "view": {"stroke": "#8F8F8F", "strokeWidth": 1.5}
        },
        {"width": 84.5, "height": 1, "data": {"values": []}, "mark": "point", "view": {"stroke": null}},
        {
          "width": 654, "height": 50,
          "data": {"values": [{"panel": "Isoform Expression"}]},
          "mark": {"type": "text", "fontSize": 25, "color": "#1A1A1A", "align": "center", "baseline": "middle"},
          "encoding": {"text": {"field": "panel", "type": "nominal"}},
          "view": {"stroke": "#8F8F8F", "strokeWidth": 1.5}
        },
        {"width": 105.5, "height": 1, "data": {"values": []}, "mark": "point", "view": {"stroke": null}},
        {
          "width": 633, "height": 50,
          "data": {"values": [{"panel": "Isoform Usage"}]},
          "mark": {"type": "text", "fontSize": 25, "color": "#1A1A1A", "align": "center", "baseline": "middle"},
          "encoding": {"text": {"field": "panel", "type": "nominal"}},
          "view": {"stroke": "#8F8F8F", "strokeWidth": 1.5}
        },
        {
          "width": 271, "height": 331,
          "data": {"name": "gene"},
          "layer": [
            {
              "mark": {"type": "bar"},
              "encoding": {
                "x": {"field": "Condition", "type": "nominal", "scale": {"paddingInner": 0.1, "paddingOuter": 0.15},
                      "axis": {"title": "Condition", "labelAngle": 35, "labelAlign": "left", "labelBaseline": "top", "bandPosition": 0.5, "grid": true, "gridWidth": 2, "labelOverlap": false, "labelLimit": 0, "labelPadding": 4, "titleY": 190, "titleBaseline": "alphabetic"}},
                "y": {"field": "v", "type": "quantitative", "scale": {"domain": [-1.7, 36.1], "nice": false, "zero": false},
                      "axis": {"title": "Gene Expression", "values": [0, 10, 20, 30], "grid": true, "gridWidth": 2, "labelPadding": 6, "titleX": -59, "titleBaseline": "alphabetic"}},
                "color": {"field": "Condition", "type": "nominal", "scale": {"domain": ["No_inf", "pgKDN_inf"], "range": ["#A8A8A8", "#333333"]}, "legend": null}
              }
            },
            {
              "mark": {"type": "rule", "color": "#000000", "strokeWidth": 1.4},
              "encoding": {
                "x": {"field": "Condition", "type": "nominal",
                      "axis": {"title": "Condition", "labelAngle": 35, "labelAlign": "left", "labelBaseline": "top", "bandPosition": 0.5, "grid": true, "gridWidth": 2, "labelOverlap": false, "labelLimit": 0, "labelPadding": 4, "titleY": 190, "titleBaseline": "alphabetic"}},
                "y": {"field": "lo", "type": "quantitative", "axis": {"orient": "left", "values": [5, 15, 25, 35], "grid": true, "gridWidth": 1.2, "labels": false, "ticks": false, "domain": false, "title": null}},
                "y2": {"field": "hi"}
              }
            },
            {
              "mark": {"type": "tick", "color": "#000000", "size": 24, "thickness": 1.4, "opacity": 1},
              "encoding": {
                "x": {"field": "Condition", "type": "nominal",
                      "axis": {"title": "Condition", "labelAngle": 35, "labelAlign": "left", "labelBaseline": "top", "bandPosition": 0.5, "grid": true, "gridWidth": 2, "labelOverlap": false, "labelLimit": 0, "labelPadding": 4, "titleY": 190, "titleBaseline": "alphabetic"}},
                "y": {"field": "lo", "type": "quantitative", "axis": null}
              }
            },
            {
              "mark": {"type": "tick", "color": "#000000", "size": 24, "thickness": 1.4, "opacity": 1},
              "encoding": {
                "x": {"field": "Condition", "type": "nominal",
                      "axis": {"title": "Condition", "labelAngle": 35, "labelAlign": "left", "labelBaseline": "top", "bandPosition": 0.5, "grid": true, "gridWidth": 2, "labelOverlap": false, "labelLimit": 0, "labelPadding": 4, "titleY": 190, "titleBaseline": "alphabetic"}},
                "y": {"field": "hi", "type": "quantitative", "axis": null}
              }
            }
          ],
          "resolve": {"axis": {"y": "independent"}}
        },
        {"width": 84.5, "height": 1, "data": {"values": []}, "mark": "point", "view": {"stroke": null}},
        {
          "width": 654, "height": 331,
          "data": {"name": "iso"},
          "layer": [
            {
              "mark": {"type": "bar"},
              "encoding": {
                "x": {"field": "isoform", "type": "nominal", "scale": {"paddingInner": 0.1, "paddingOuter": 0.15},
                      "axis": {"title": "Isoform", "labelAngle": 35, "labelAlign": "left", "labelBaseline": "top", "bandPosition": 0.5, "grid": true, "gridWidth": 2, "labelOverlap": false, "labelLimit": 0, "labelPadding": 4, "titleY": 190, "titleBaseline": "alphabetic"}},
                "xOffset": {"field": "Condition", "type": "nominal", "scale": {"paddingInner": 0, "paddingOuter": 0}},
                "y": {"field": "v", "type": "quantitative", "scale": {"domain": [-0.553, 11.62], "nice": false, "zero": false},
                      "axis": {"title": "Isoform Expression", "values": [0, 3, 6, 9], "grid": true, "gridWidth": 2, "labelPadding": 6, "titleX": -43, "titleBaseline": "alphabetic"}},
                "color": {"field": "Condition", "type": "nominal", "scale": {"domain": ["No_inf", "pgKDN_inf"], "range": ["#A8A8A8", "#333333"]}, "legend": null}
              }
            },
            {
              "mark": {"type": "rule", "color": "#000000", "strokeWidth": 1.3},
              "encoding": {
                "x": {"field": "isoform", "type": "nominal",
                      "axis": {"title": "Isoform", "labelAngle": 35, "labelAlign": "left", "labelBaseline": "top", "bandPosition": 0.5, "grid": true, "gridWidth": 2, "labelOverlap": false, "labelLimit": 0, "labelPadding": 4, "titleY": 190, "titleBaseline": "alphabetic"}},
                "xOffset": {"field": "Condition", "type": "nominal"},
                "y": {"field": "lo", "type": "quantitative", "axis": {"orient": "left", "values": [1.5, 4.5, 7.5, 10.5], "grid": true, "gridWidth": 1.2, "labels": false, "ticks": false, "domain": false, "title": null}},
                "y2": {"field": "hi"}
              }
            },
            {
              "mark": {"type": "tick", "color": "#000000", "size": 6, "thickness": 1.3, "opacity": 1},
              "encoding": {
                "x": {"field": "isoform", "type": "nominal",
                      "axis": {"title": "Isoform", "labelAngle": 35, "labelAlign": "left", "labelBaseline": "top", "bandPosition": 0.5, "grid": true, "gridWidth": 2, "labelOverlap": false, "labelLimit": 0, "labelPadding": 4, "titleY": 190, "titleBaseline": "alphabetic"}},
                "xOffset": {"field": "Condition", "type": "nominal"},
                "y": {"field": "lo", "type": "quantitative", "axis": null}
              }
            },
            {
              "mark": {"type": "tick", "color": "#000000", "size": 6, "thickness": 1.3, "opacity": 1},
              "encoding": {
                "x": {"field": "isoform", "type": "nominal",
                      "axis": {"title": "Isoform", "labelAngle": 35, "labelAlign": "left", "labelBaseline": "top", "bandPosition": 0.5, "grid": true, "gridWidth": 2, "labelOverlap": false, "labelLimit": 0, "labelPadding": 4, "titleY": 190, "titleBaseline": "alphabetic"}},
                "xOffset": {"field": "Condition", "type": "nominal"},
                "y": {"field": "hi", "type": "quantitative", "axis": null}
              }
            }
          ],
          "resolve": {"axis": {"y": "independent"}}
        },
        {"width": 105.5, "height": 1, "data": {"values": []}, "mark": "point", "view": {"stroke": null}},
        {
          "width": 633, "height": 331,
          "layer": [
            {
              "data": {"name": "usage"},
              "mark": {"type": "bar"},
              "encoding": {
                "x": {"field": "isoform", "type": "nominal", "scale": {"paddingInner": 0.1, "paddingOuter": 0.15},
                      "axis": {"title": "Isoform", "labelAngle": 35, "labelAlign": "left", "labelBaseline": "top", "bandPosition": 0.5, "grid": true, "gridWidth": 2, "labelOverlap": false, "labelLimit": 0, "labelPadding": 4, "titleY": 190, "titleBaseline": "alphabetic"}},
                "xOffset": {"field": "Condition", "type": "nominal", "scale": {"paddingInner": 0, "paddingOuter": 0}},
                "y": {"field": "IF", "type": "quantitative", "scale": {"domain": [-0.0178, 0.3772], "nice": false, "zero": false},
                      "axis": {"title": "Isoform Fraction (IF)", "values": [0, 0.1, 0.2, 0.3], "format": ".1f", "grid": true, "gridWidth": 2, "labelPadding": 6, "titleX": -64, "titleBaseline": "alphabetic"}},
                "color": {"field": "Condition", "type": "nominal", "scale": {"domain": ["No_inf", "pgKDN_inf"], "range": ["#A8A8A8", "#333333"]},
                          "legend": {"title": "Condition", "orient": "none", "legendX": 704, "legendY": 134.5}}
              }
            },
            {
              "data": {"name": "sig"},
              "mark": {"type": "tick", "color": "#000000", "size": 33, "thickness": 1.5, "opacity": 1},
              "encoding": {
                "x": {"field": "isoform", "type": "nominal",
                      "axis": {"title": "Isoform", "labelAngle": 35, "labelAlign": "left", "labelBaseline": "top", "bandPosition": 0.5, "grid": true, "gridWidth": 2, "labelOverlap": false, "labelLimit": 0, "labelPadding": 4, "titleY": 190, "titleBaseline": "alphabetic"}},
                "y": {"field": "y", "type": "quantitative", "axis": {"orient": "left", "values": [0.05, 0.15, 0.25, 0.35], "grid": true, "gridWidth": 1.2, "labels": false, "ticks": false, "domain": false, "title": null}}
              }
            },
            {
              "data": {"name": "sig"},
              "mark": {"type": "text", "fontSize": 26, "color": "#000000", "baseline": "alphabetic", "dy": -4},
              "encoding": {
                "x": {"field": "isoform", "type": "nominal",
                      "axis": {"title": "Isoform", "labelAngle": 35, "labelAlign": "left", "labelBaseline": "top", "bandPosition": 0.5, "grid": true, "gridWidth": 2, "labelOverlap": false, "labelLimit": 0, "labelPadding": 4, "titleY": 190, "titleBaseline": "alphabetic"}},
                "y": {"field": "y", "type": "quantitative", "axis": null},
                "text": {"field": "label", "type": "nominal"}
              }
            }
          ],
          "resolve": {"axis": {"y": "independent"}}
        }
      ],
      "resolve": {"scale": {"x": "independent", "y": "independent", "color": "independent"}, "legend": {"color": "independent"}}
    }
  ],
  "resolve": {"scale": {"x": "independent", "y": "independent", "color": "independent"}, "legend": {"color": "independent"}},
  "config": {
    "font": "Liberation Sans",
    "view": {"stroke": "#333333", "strokeWidth": 1.5},
    "axis": {"domain": false, "grid": true, "gridColor": "#EBEBEB", "gridWidth": 2, "tickColor": "#333333", "tickWidth": 1.5, "tickSize": 8, "labelFont": "Liberation Sans", "labelFontSize": 24, "labelColor": "#4D4D4D", "titleFont": "Liberation Sans", "titleFontSize": 31, "titleFontWeight": "normal", "titleColor": "#000000"},
    "legend": {"labelFont": "Liberation Sans", "titleFont": "Liberation Sans", "labelFontSize": 25, "titleFontSize": 31, "titleFontWeight": "normal", "labelColor": "#000000", "titleColor": "#000000", "symbolType": "square", "symbolSize": 500, "symbolStrokeWidth": 0, "padding": 0, "rowPadding": -2, "labelOffset": 17, "titlePadding": 14, "labelLimit": 0},
    "text": {"font": "Liberation Sans"}
  }
}
